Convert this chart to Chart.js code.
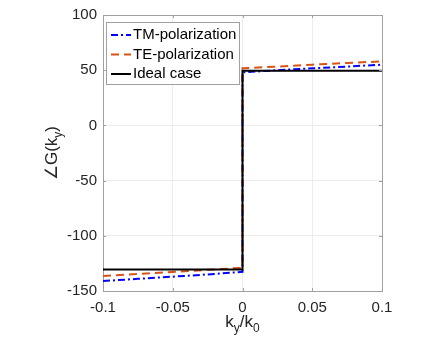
<!DOCTYPE html>
<html>
<head>
<meta charset="utf-8">
<script src="https://cdn.jsdelivr.net/npm/chart.js@4"></script>
<style>
  html, body { margin: 0; padding: 0; background: #fff; }
  #wrap { width: 430px; height: 346px; }
</style>
</head>
<body>
<div id="wrap"><canvas id="c" width="430" height="346"></canvas></div>
<script>
// valeurs
const tmX = [-0.1, -0.075, -0.05, -0.025, 0, 0, 0.025, 0.05, 0.075, 0.1];
const tmY = [-141, -139, -137, -135, -132.6, 48, 50, 51.7, 53.3, 55];
const teX = [-0.1, -0.075, -0.05, -0.025, 0, 0, 0.025, 0.05, 0.075, 0.1];
const teY = [-136.5, -134.6, -132.7, -130.8, -129, 51.7, 53.3, 55, 56.5, 58];
const idealX = [-0.1, 0, 0, 0.1];
const idealY = [-130.5, -130.5, 49.5, 49.5];

const xTicks = [-0.1, -0.05, 0, 0.05, 0.1];
const yTicks = [-150, -100, -50, 0, 50, 100];

const FONT = 'Arial, "Liberation Sans", Helvetica, sans-serif';
const TEXT = '#262626';
const AXIS = '#a0a0a0';

function pts(xs, ys) {
    return xs.map((x, i) => ({ x: x, y: ys[i] }));
}

// petits traits de graduation vers l'intérieur, comme MATLAB
const tickPlugin = {
    id: 'innerTicks',
    afterDatasetsDraw(chart) {
        const ctx = chart.ctx;
        const a = chart.chartArea;
        const sx = chart.scales.x, sy = chart.scales.y;
        ctx.save();
        ctx.strokeStyle = AXIS;
        ctx.lineWidth = 1;
        ctx.beginPath();
        xTicks.forEach(v => {
            const px = Math.round(sx.getPixelForValue(v)) + 0.5;
            ctx.moveTo(px, a.bottom); ctx.lineTo(px, a.bottom - 3);
            ctx.moveTo(px, a.top); ctx.lineTo(px, a.top + 3);
        });
        yTicks.forEach(v => {
            const py = Math.round(sy.getPixelForValue(v)) + 0.5;
            ctx.moveTo(a.left, py); ctx.lineTo(a.left + 3, py);
            ctx.moveTo(a.right, py); ctx.lineTo(a.right - 3, py);
        });
        ctx.stroke();
        ctx.restore();
    }
};

// légende dans le cadre + titres d'axes avec indices
const figPlugin = {
    id: 'fig',
    afterDraw(chart) {
        const ctx = chart.ctx;
        const a = chart.chartArea;
        ctx.save();

        // légende
        const lx = a.left + 3, ly = a.top + 7, lw = 133, lh = 62;
        ctx.fillStyle = '#fff';
        ctx.fillRect(lx, ly, lw, lh);
        ctx.strokeStyle = AXIS;
        ctx.lineWidth = 1;
        ctx.setLineDash([]);
        ctx.strokeRect(lx + 0.5, ly + 0.5, lw, lh);
        ctx.font = '15px ' + FONT;
        ctx.textBaseline = 'middle';
        const legendOrder = [0, 1, 2];
        legendOrder.forEach((di, i) => {
            const ds = chart.data.datasets[di];
            const yy = ly + 13 + i * 19.5;
            ctx.strokeStyle = ds.borderColor;
            ctx.lineWidth = 2;
            ctx.setLineDash(ds.borderDash || []);
            ctx.beginPath();
            ctx.moveTo(lx + 5, yy);
            ctx.lineTo(lx + 25, yy);
            ctx.stroke();
            ctx.setLineDash([]);
            ctx.fillStyle = '#000';
            ctx.fillText(ds.label, lx + 27, yy);
        });

        // titre x : k_y/k_0
        ctx.fillStyle = TEXT;
        ctx.textBaseline = 'alphabetic';
        const cx = (a.left + a.right) / 2;
        const by = 327;
        const big = '17px ' + FONT, small = '12px ' + FONT;
        ctx.font = big;
        const wk = ctx.measureText('k').width;
        const ws = ctx.measureText('/k').width;
        ctx.font = small;
        const wy = ctx.measureText('y').width;
        const w0 = ctx.measureText('0').width;
        let x0 = cx - (wk + wy + ws + w0) / 2;
        ctx.textAlign = 'left';
        ctx.font = big; ctx.fillText('k', x0, by); x0 += wk;
        ctx.font = small; ctx.fillText('y', x0, by + 5); x0 += wy;
        ctx.font = big; ctx.fillText('/k', x0, by); x0 += ws;
        ctx.font = small; ctx.fillText('0', x0, by + 5);

        // titre y : ∠G(k_y)
        ctx.translate(57, (a.top + a.bottom) / 2);
        ctx.rotate(-Math.PI / 2);
        ctx.font = big;
        const wa = ctx.measureText('∠G(k').width;
        const wc = ctx.measureText(')').width;
        ctx.font = small;
        const wy2 = ctx.measureText('y').width;
        let y0 = -(wa + wy2 + wc) / 2;
        ctx.font = big; ctx.fillText('∠G(k', y0, 0); y0 += wa;
        ctx.font = small; ctx.fillText('y', y0, 5); y0 += wy2;
        ctx.font = big; ctx.fillText(')', y0, 0);

        ctx.restore();
    }
};

new Chart(document.getElementById('c'), {
    type: 'line',
    data: {
        datasets: [
            {
                label: 'TM-polarization',
                data: pts(tmX, tmY),
                borderColor: '#0000ff',
                borderWidth: 2,
                borderDash: [7, 3, 2, 3],
                pointRadius: 0,
                tension: 0,
                order: 2
            },
            {
                label: 'TE-polarization',
                data: pts(teX, teY),
                borderColor: '#d95319',
                borderWidth: 2,
                borderDash: [8, 5],
                pointRadius: 0,
                tension: 0,
                order: 1
            },
            {
                label: 'Ideal case',
                data: pts(idealX, idealY),
                borderColor: '#000000',
                borderWidth: 2,
                pointRadius: 0,
                tension: 0,
                order: 0
            }
        ]
    },
    options: {
        responsive: false,
        animation: false,
        layout: { padding: { left: 0, right: 48, top: 13, bottom: 0 } },
        plugins: { legend: { display: false }, tooltip: { enabled: false } },
        scales: {
            x: {
                type: 'linear',
                min: -0.1,
                max: 0.1,
                afterFit(s) { s.height = 55; },
                afterBuildTicks(s) { s.ticks = xTicks.map(v => ({ value: v })); },
                grid: { color: '#ececec', drawTicks: false },
                border: { color: AXIS },
                ticks: {
                    padding: 8,
                    color: TEXT,
                    font: { size: 15, family: FONT },
                    callback: v => String(Math.round(v * 100) / 100)
                }
            },
            y: {
                min: -150,
                max: 100,
                afterFit(s) { s.width = 103; },
                afterBuildTicks(s) { s.ticks = yTicks.map(v => ({ value: v })); },
                grid: { color: '#ececec', drawTicks: false },
                border: { color: AXIS },
                ticks: {
                    padding: 6,
                    color: TEXT,
                    font: { size: 15, family: FONT }
                }
            },
            x2: {
                type: 'linear', position: 'top', min: -0.1, max: 0.1,
                grid: { display: false, drawTicks: false },
                border: { color: AXIS },
                ticks: { display: false },
                afterFit(s) { s.height = 0; }
            },
            y2: {
                position: 'right', min: -150, max: 100,
                grid: { display: false, drawTicks: false },
                border: { color: AXIS },
                ticks: { display: false },
                afterFit(s) { s.width = 0; }
            }
        }
    },
    plugins: [tickPlugin, figPlugin]
});
</script>
</body>
</html>
